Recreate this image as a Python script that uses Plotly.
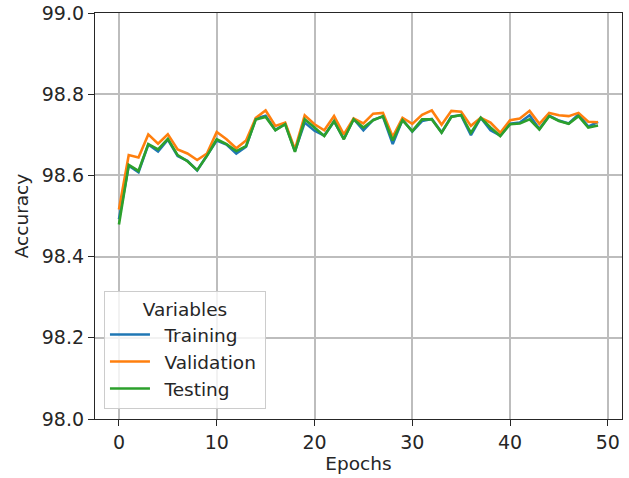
import plotly.graph_objects as go

epochs = list(range(50))

training = [98.492, 98.624, 98.608, 98.676, 98.659, 98.688, 98.648, 98.636, 98.612, 98.650,
            98.686, 98.676, 98.654, 98.671, 98.740, 98.747, 98.712, 98.727, 98.660, 98.730,
            98.710, 98.698, 98.733, 98.690, 98.739, 98.711, 98.737, 98.745, 98.677, 98.737,
            98.708, 98.734, 98.739, 98.706, 98.745, 98.748, 98.699, 98.742, 98.711, 98.698,
            98.727, 98.730, 98.748, 98.714, 98.747, 98.735, 98.728, 98.750, 98.720, 98.732]

validation = [98.516, 98.650, 98.644, 98.701, 98.678, 98.701, 98.664, 98.654, 98.638, 98.654,
              98.707, 98.689, 98.667, 98.686, 98.742, 98.760, 98.722, 98.730, 98.664, 98.748,
              98.726, 98.711, 98.746, 98.701, 98.740, 98.728, 98.752, 98.754, 98.695, 98.742,
              98.727, 98.749, 98.760, 98.725, 98.759, 98.757, 98.722, 98.742, 98.730, 98.705,
              98.736, 98.740, 98.759, 98.727, 98.754, 98.748, 98.746, 98.754, 98.732, 98.731]

testing = [98.479, 98.626, 98.611, 98.677, 98.664, 98.690, 98.650, 98.635, 98.613, 98.648,
           98.689, 98.677, 98.660, 98.672, 98.738, 98.744, 98.711, 98.726, 98.658, 98.738,
           98.718, 98.697, 98.734, 98.689, 98.738, 98.718, 98.736, 98.746, 98.686, 98.736,
           98.709, 98.738, 98.738, 98.705, 98.744, 98.749, 98.705, 98.742, 98.718, 98.697,
           98.726, 98.728, 98.738, 98.713, 98.746, 98.734, 98.727, 98.746, 98.718, 98.723]

series_names = ["Training", "Validation", "Testing"]
series_values = [training, validation, testing]
series_colors = ["#1f77b4", "#ff7f0e", "#2ca02c"]

x_ticks = [0, 10, 20, 30, 40, 50]
y_ticks = [98.0, 98.2, 98.4, 98.6, 98.8, 99.0]

FONT = "DejaVu Sans"
TEXT = "#262626"
GAP = "\u00a0\u2009"  # small gap between legend line sample and label
TAIL = "\u2009"

fig = go.Figure()
for name, vals, col in zip(series_names, series_values, series_colors):
    fig.add_trace(go.Scatter(x=epochs, y=vals, mode="lines", name=GAP + name + TAIL,
                             line=dict(color=col, width=2.6)))

axis_common = dict(
    showline=True, linecolor="#262626", linewidth=1.3, mirror=True,
    ticks="outside", ticklen=6, tickwidth=1.3, tickcolor="#262626",
    showgrid=True, gridcolor="#bdbdbd", gridwidth=1.6,
    zeroline=False, automargin=False,
    tickfont=dict(family=FONT, size=19, color=TEXT),
)

fig.update_xaxes(range=[-2.45, 51.45], tickvals=x_ticks,
                 title=dict(text="Epochs", font=dict(family=FONT, size=18.5, color=TEXT), standoff=3),
                 **axis_common)
fig.update_yaxes(range=[98.0, 99.0], tickvals=y_ticks, tickformat=".1f",
                 title=dict(text="Accuracy", font=dict(family=FONT, size=18.5, color=TEXT), standoff=8),
                 **axis_common)

fig.update_layout(
    width=629, height=478,
    margin=dict(l=95, r=7, t=13, b=59),
    paper_bgcolor="white", plot_bgcolor="white",
    font=dict(family=FONT, size=18.5, color=TEXT),
    showlegend=True,
    legend=dict(
        x=0.017, y=0.025, xanchor="left", yanchor="bottom",
        bgcolor="rgba(255,255,255,0.8)", bordercolor="#cccccc", borderwidth=1,
        title=dict(text="Variables", side="top center", font=dict(family=FONT, size=18.5, color=TEXT)),
        font=dict(family=FONT, size=18.5, color=TEXT),
        itemwidth=40,
    ),
)

fig.write_html("out.html", config={"displayModeBar": False},
               post_script="document.body.style.margin='0';")
